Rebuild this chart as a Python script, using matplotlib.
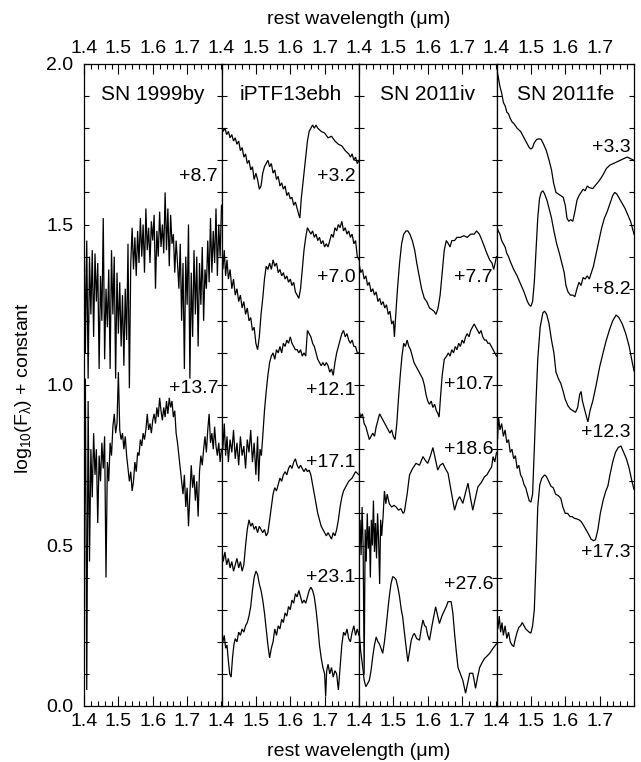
import matplotlib
matplotlib.use('Agg')
import matplotlib.pyplot as plt
from matplotlib.ticker import MultipleLocator, FixedLocator, FormatStrFormatter

plt.rcParams['font.family'] = ['Liberation Sans', 'DejaVu Sans']
plt.rcParams['mathtext.fontset'] = 'custom'
plt.rcParams['mathtext.rm'] = 'Liberation Sans'
plt.rcParams['mathtext.it'] = 'Liberation Sans:italic'

# ---------------- data ----------------
panel_titles = ['SN 1999by', 'iPTF13ebh', 'SN 2011iv', 'SN 2011fe']
x_ticks = [1.4, 1.5, 1.6, 1.7]
y_ticks = [0.0, 0.5, 1.0, 1.5, 2.0]

# SN 1999by (shared wavelength grid)
wl_99by = [1.400, 1.404, 1.408, 1.412, 1.416, 1.420, 1.424, 1.428, 1.432, 1.436,
           1.440, 1.444, 1.448, 1.452, 1.456, 1.460, 1.464, 1.468, 1.472, 1.476,
           1.480, 1.484, 1.488, 1.492, 1.496, 1.500, 1.504, 1.508, 1.512, 1.516,
           1.520, 1.524, 1.528, 1.532, 1.536, 1.540, 1.544, 1.548, 1.552, 1.556,
           1.560, 1.564, 1.568, 1.572, 1.576, 1.580, 1.584, 1.588, 1.592, 1.596,
           1.600, 1.604, 1.608, 1.612, 1.616, 1.620, 1.624, 1.628, 1.632, 1.636,
           1.640, 1.644, 1.648, 1.652, 1.656, 1.660, 1.664, 1.668, 1.672, 1.676,
           1.680, 1.684, 1.688, 1.692, 1.696, 1.700, 1.704, 1.708, 1.712, 1.716,
           1.720, 1.724, 1.728, 1.732, 1.736, 1.740, 1.744, 1.748, 1.752, 1.756,
           1.760, 1.764, 1.768, 1.772, 1.776, 1.780, 1.784, 1.788, 1.792, 1.796,
           1.800]
flux_99by_p87 = [1.55, 1.10, 1.45, 1.02, 1.40, 1.22, 1.42, 1.15, 1.41, 1.26,
                 1.38, 1.05, 1.34, 1.20, 1.52, 1.08, 1.30, 1.18, 1.36, 1.05,
                 1.42, 1.22, 1.40, 1.02, 1.35, 1.16, 1.32, 1.12, 1.28, 1.06,
                 1.30, 1.14, 1.44, 0.99, 1.38, 1.49, 1.36, 1.46, 1.34, 1.48,
                 1.38, 1.52, 1.40, 1.50, 1.35, 1.55, 1.42, 1.49, 1.38, 1.51,
                 1.45, 1.53, 1.30, 1.48, 1.40, 1.54, 1.43, 1.50, 1.41, 1.60,
                 1.42, 1.55, 1.37, 1.53, 1.44, 1.47, 1.35, 1.45, 1.38, 1.30,
                 1.44, 1.20, 1.38, 1.05, 1.40, 1.25, 1.50, 1.02, 1.35, 1.15,
                 1.42, 1.22, 1.40, 1.12, 1.38, 1.25, 1.43, 1.20, 1.36, 1.30,
                 1.45, 1.32, 1.52, 1.35, 1.48, 1.38, 1.55, 1.34, 1.50, 1.40,
                 1.56]
flux_99by_p137 = [0.40, 1.02, 0.05, 0.95, 0.45, 0.80, 0.65, 0.85, 0.72, 0.80,
                  0.57, 0.78, 0.70, 0.82, 0.74, 0.84, 0.40, 0.76, 0.70, 0.82,
                  0.78, 0.87, 0.91, 0.85, 0.88, 1.04, 0.86, 0.83, 0.85, 0.80,
                  0.84, 0.78, 0.74, 0.70, 0.73, 0.67, 0.70, 0.76, 0.73, 0.79,
                  0.78, 0.83, 0.81, 0.85, 0.83, 0.86, 0.91, 0.86, 0.88, 0.85,
                  0.89, 0.91, 0.88, 0.93, 0.90, 0.96, 0.92, 0.89, 0.93, 0.90,
                  0.95, 0.91, 0.96, 0.93, 0.95, 0.90, 0.92, 0.85, 0.82, 0.78,
                  0.74, 0.70, 0.66, 0.72, 0.62, 0.68, 0.56, 0.66, 0.75, 0.68,
                  0.72, 0.64, 0.70, 0.59, 0.73, 0.78, 0.75, 0.80, 0.84, 0.79,
                  0.86, 0.91, 0.82, 0.85, 0.80, 0.87, 0.81, 0.78, 0.82, 0.76,
                  0.80]

# iPTF13ebh
wl_ebh_p32 = [1.400, 1.405, 1.410, 1.415, 1.420, 1.425, 1.430, 1.435, 1.440, 1.445,
              1.450, 1.455, 1.460, 1.465, 1.470, 1.475, 1.480, 1.485, 1.490, 1.495,
              1.500, 1.505, 1.510, 1.515, 1.520, 1.525, 1.530, 1.535, 1.540, 1.545,
              1.550, 1.555, 1.560, 1.565, 1.570, 1.575, 1.580, 1.585, 1.590, 1.595,
              1.600, 1.605, 1.610, 1.615, 1.620, 1.625, 1.628, 1.632, 1.638, 1.644,
              1.650, 1.655, 1.660, 1.665, 1.670, 1.675, 1.680, 1.690, 1.700, 1.710,
              1.720, 1.730, 1.740, 1.750, 1.760, 1.770, 1.775, 1.780, 1.785, 1.790,
              1.795, 1.800]
flux_ebh_p32 = [1.81, 1.79, 1.80, 1.78, 1.79, 1.77, 1.78, 1.76, 1.77, 1.75,
                1.76, 1.73, 1.74, 1.71, 1.72, 1.69, 1.70, 1.67, 1.68, 1.64,
                1.66, 1.64, 1.61, 1.62, 1.66, 1.68, 1.69, 1.70, 1.68, 1.69,
                1.66, 1.67, 1.64, 1.65, 1.62, 1.63, 1.61, 1.62, 1.59, 1.60,
                1.58, 1.585, 1.56, 1.57, 1.55, 1.53, 1.52, 1.58, 1.64, 1.70,
                1.76, 1.79, 1.80, 1.81, 1.80, 1.81, 1.80, 1.79, 1.785, 1.77,
                1.775, 1.76, 1.75, 1.745, 1.73, 1.72, 1.71, 1.72, 1.70, 1.71,
                1.69, 1.70]

wl_ebh_p70 = [1.400, 1.404, 1.408, 1.412, 1.416, 1.420, 1.425, 1.430, 1.435, 1.440,
              1.445, 1.450, 1.455, 1.460, 1.465, 1.470, 1.475, 1.480, 1.485, 1.490,
              1.495, 1.500, 1.505, 1.510, 1.515, 1.520, 1.525, 1.530, 1.535, 1.540,
              1.545, 1.550, 1.555, 1.560, 1.565, 1.570, 1.575, 1.580, 1.585, 1.590,
              1.595, 1.600, 1.605, 1.610, 1.615, 1.620, 1.625, 1.630, 1.635, 1.640,
              1.645, 1.650, 1.655, 1.660, 1.665, 1.670, 1.675, 1.680, 1.685, 1.690,
              1.695, 1.700, 1.705, 1.710, 1.715, 1.720, 1.725, 1.730, 1.735, 1.740,
              1.745, 1.750, 1.755, 1.760, 1.765, 1.770, 1.775, 1.780, 1.785, 1.790,
              1.795, 1.800]
flux_ebh_p70 = [1.44, 1.36, 1.42, 1.34, 1.39, 1.33, 1.36, 1.30, 1.33, 1.28,
                1.30, 1.26, 1.28, 1.24, 1.26, 1.22, 1.24, 1.20, 1.21, 1.17,
                1.18, 1.13, 1.11, 1.15, 1.22, 1.27, 1.33, 1.37, 1.36, 1.38,
                1.36, 1.39, 1.37, 1.38, 1.35, 1.36, 1.34, 1.35, 1.33, 1.34,
                1.32, 1.33, 1.31, 1.32, 1.29, 1.28, 1.27, 1.30, 1.36, 1.42,
                1.46, 1.49, 1.48, 1.47, 1.48, 1.46, 1.47, 1.45, 1.46, 1.44,
                1.45, 1.43, 1.44, 1.43, 1.45, 1.47, 1.46, 1.49, 1.48, 1.50,
                1.49, 1.51, 1.48, 1.49, 1.47, 1.48, 1.46, 1.47, 1.44, 1.45,
                1.40, 1.39]

wl_ebh_p121 = [1.400, 1.404, 1.408, 1.412, 1.416, 1.420, 1.425, 1.430, 1.435, 1.440,
               1.445, 1.450, 1.455, 1.460, 1.465, 1.470, 1.475, 1.480, 1.485, 1.490,
               1.495, 1.500, 1.505, 1.508, 1.512, 1.516, 1.520, 1.525, 1.530, 1.535,
               1.540, 1.545, 1.550, 1.555, 1.560, 1.565, 1.570, 1.575, 1.580, 1.585,
               1.590, 1.595, 1.600, 1.605, 1.610, 1.615, 1.620, 1.625, 1.630, 1.635,
               1.640, 1.645, 1.650, 1.655, 1.660, 1.665, 1.670, 1.675, 1.680, 1.685,
               1.690, 1.695, 1.700, 1.705, 1.710, 1.715, 1.720, 1.725, 1.730, 1.735,
               1.740, 1.745, 1.750, 1.755, 1.760, 1.765, 1.770, 1.775, 1.780, 1.785,
               1.790, 1.795, 1.800]
flux_ebh_p121 = [0.86, 0.80, 0.88, 0.78, 0.84, 0.76, 0.83, 0.79, 0.86, 0.77,
                 0.82, 0.75, 0.84, 0.78, 0.81, 0.74, 0.83, 0.79, 0.86, 0.76,
                 0.82, 0.72, 0.84, 0.70, 0.80, 0.78, 0.84, 0.92, 0.98, 1.03,
                 1.07, 1.09, 1.10, 1.08, 1.11, 1.10, 1.12, 1.10, 1.13, 1.12,
                 1.14, 1.13, 1.15, 1.13, 1.12, 1.11, 1.11, 1.10, 1.11, 1.09,
                 1.10, 1.09, 1.17, 1.16, 1.15, 1.13, 1.12, 1.10, 1.08, 1.07,
                 1.06, 1.07, 1.06, 1.07, 1.06, 1.04, 1.05, 1.03, 1.07, 1.10,
                 1.12, 1.14, 1.16, 1.17, 1.15, 1.16, 1.14, 1.13, 1.14, 1.12,
                 1.12, 1.10, 1.10]

wl_ebh_p171 = [1.400, 1.405, 1.410, 1.415, 1.420, 1.425, 1.430, 1.435, 1.440, 1.445,
               1.450, 1.455, 1.460, 1.465, 1.470, 1.475, 1.480, 1.485, 1.490, 1.495,
               1.500, 1.505, 1.510, 1.515, 1.520, 1.525, 1.530, 1.535, 1.540, 1.545,
               1.550, 1.555, 1.560, 1.565, 1.570, 1.575, 1.580, 1.585, 1.590, 1.595,
               1.600, 1.605, 1.610, 1.615, 1.620, 1.625, 1.630, 1.635, 1.640, 1.645,
               1.650, 1.655, 1.660, 1.665, 1.670, 1.675, 1.680, 1.685, 1.690, 1.695,
               1.700, 1.705, 1.710, 1.715, 1.720, 1.725, 1.730, 1.735, 1.740, 1.745,
               1.750, 1.755, 1.760, 1.765, 1.770, 1.780, 1.790, 1.800]
flux_ebh_p171 = [0.50, 0.45, 0.48, 0.44, 0.46, 0.43, 0.45, 0.42, 0.44, 0.46,
                 0.43, 0.45, 0.42, 0.44, 0.50, 0.55, 0.58, 0.56, 0.57, 0.55,
                 0.56, 0.54, 0.56, 0.55, 0.54, 0.55, 0.53, 0.54, 0.58, 0.62,
                 0.66, 0.68, 0.67, 0.69, 0.71, 0.70, 0.72, 0.73, 0.72, 0.74,
                 0.75, 0.74, 0.76, 0.77, 0.75, 0.74, 0.75, 0.74, 0.73, 0.74,
                 0.73, 0.735, 0.72, 0.69, 0.66, 0.63, 0.60, 0.58, 0.56, 0.55,
                 0.54, 0.53, 0.54, 0.53, 0.52, 0.54, 0.53, 0.55, 0.58, 0.62,
                 0.65, 0.67, 0.68, 0.69, 0.70, 0.71, 0.73, 0.72]

wl_ebh_p231 = [1.400, 1.404, 1.408, 1.412, 1.416, 1.420, 1.424, 1.428, 1.432, 1.436,
               1.440, 1.445, 1.450, 1.455, 1.460, 1.465, 1.470, 1.475, 1.480, 1.485,
               1.490, 1.495, 1.500, 1.505, 1.510, 1.515, 1.520, 1.525, 1.530, 1.535,
               1.540, 1.545, 1.550, 1.555, 1.560, 1.565, 1.570, 1.575, 1.580, 1.585,
               1.590, 1.595, 1.600, 1.605, 1.610, 1.615, 1.620, 1.625, 1.630, 1.635,
               1.640, 1.645, 1.650, 1.655, 1.660, 1.665, 1.670, 1.675, 1.680, 1.685,
               1.690, 1.695, 1.700, 1.703, 1.706, 1.710, 1.715, 1.720, 1.725, 1.730,
               1.735, 1.740, 1.745, 1.750, 1.755, 1.760, 1.765, 1.770, 1.775, 1.780,
               1.785, 1.790, 1.795, 1.800]
flux_ebh_p231 = [0.23, 0.20, 0.22, 0.18, 0.19, 0.14, 0.10, 0.09, 0.15, 0.19,
                 0.21, 0.20, 0.23, 0.22, 0.24, 0.23, 0.25, 0.26, 0.28, 0.31,
                 0.36, 0.40, 0.42, 0.41, 0.38, 0.36, 0.33, 0.29, 0.24, 0.19,
                 0.15, 0.18, 0.20, 0.24, 0.22, 0.25, 0.24, 0.27, 0.26, 0.29,
                 0.28, 0.31, 0.30, 0.33, 0.32, 0.35, 0.34, 0.36, 0.34, 0.32,
                 0.33, 0.32, 0.34, 0.36, 0.37, 0.36, 0.34, 0.30, 0.25, 0.19,
                 0.15, 0.12, 0.10, 0.03, 0.11, 0.13, 0.10, 0.12, 0.09, 0.11,
                 0.10, 0.05, 0.12, 0.19, 0.23, 0.22, 0.24, 0.21, 0.20, 0.23,
                 0.25, 0.22, 0.24, 0.22]

# SN 2011iv
wl_11iv_p77 = [1.400, 1.405, 1.410, 1.415, 1.420, 1.425, 1.430, 1.435, 1.440, 1.445,
               1.450, 1.455, 1.460, 1.465, 1.470, 1.475, 1.480, 1.485, 1.490, 1.495,
               1.500, 1.503, 1.507, 1.512, 1.518, 1.524, 1.530, 1.537, 1.542, 1.548,
               1.555, 1.562, 1.568, 1.575, 1.582, 1.590, 1.597, 1.605, 1.612, 1.618,
               1.624, 1.630, 1.636, 1.642, 1.648, 1.654, 1.660, 1.665, 1.670, 1.678,
               1.685, 1.695, 1.705, 1.715, 1.725, 1.735, 1.742, 1.750, 1.758, 1.765,
               1.772, 1.780, 1.787, 1.792, 1.796, 1.800]
flux_11iv_p77 = [1.38, 1.35, 1.36, 1.33, 1.34, 1.31, 1.32, 1.29, 1.30, 1.28,
                 1.29, 1.26, 1.27, 1.25, 1.26, 1.24, 1.25, 1.22, 1.23, 1.19,
                 1.20, 1.15, 1.22, 1.30, 1.38, 1.44, 1.47, 1.48, 1.48, 1.47,
                 1.45, 1.42, 1.38, 1.34, 1.30, 1.27, 1.26, 1.24, 1.235, 1.23,
                 1.22, 1.24, 1.28, 1.35, 1.42, 1.45, 1.44, 1.43, 1.45, 1.45,
                 1.46, 1.46, 1.465, 1.46, 1.47, 1.47, 1.48, 1.47, 1.45, 1.43,
                 1.41, 1.39, 1.38, 1.36, 1.38, 1.40]

wl_11iv_p107 = [1.400, 1.405, 1.410, 1.415, 1.420, 1.425, 1.430, 1.435, 1.440, 1.445,
                1.450, 1.455, 1.460, 1.465, 1.470, 1.475, 1.480, 1.485, 1.490, 1.495,
                1.500, 1.505, 1.510, 1.515, 1.520, 1.525, 1.530, 1.535, 1.540, 1.545,
                1.550, 1.555, 1.560, 1.565, 1.570, 1.575, 1.580, 1.585, 1.590, 1.595,
                1.600, 1.605, 1.610, 1.615, 1.620, 1.625, 1.630, 1.633, 1.637, 1.642,
                1.648, 1.655, 1.660, 1.665, 1.670, 1.675, 1.680, 1.685, 1.690, 1.695,
                1.700, 1.705, 1.710, 1.715, 1.720, 1.725, 1.730, 1.735, 1.740, 1.745,
                1.750, 1.755, 1.760, 1.765, 1.770, 1.775, 1.780, 1.785, 1.790, 1.795,
                1.800]
flux_11iv_p107 = [0.92, 0.90, 0.91, 0.88, 0.87, 0.85, 0.83, 0.84, 0.85, 0.84,
                  0.87, 0.89, 0.91, 0.90, 0.89, 0.88, 0.87, 0.86, 0.85, 0.86,
                  0.84, 0.83, 0.88, 0.96, 1.03, 1.09, 1.13, 1.12, 1.14, 1.12,
                  1.11, 1.09, 1.07, 1.06, 1.05, 1.04, 1.03, 1.02, 1.00, 0.97,
                  0.95, 0.94, 0.95, 0.93, 0.94, 0.92, 0.91, 0.90, 0.96, 1.03,
                  1.08, 1.09, 1.10, 1.09, 1.11, 1.10, 1.12, 1.11, 1.13, 1.12,
                  1.14, 1.13, 1.15, 1.16, 1.15, 1.17, 1.18, 1.19, 1.18, 1.17,
                  1.16, 1.17, 1.15, 1.14, 1.14, 1.13, 1.13, 1.12, 1.11, 1.10,
                  1.09]

wl_11iv_p186 = [1.400, 1.403, 1.406, 1.409, 1.412, 1.415, 1.418, 1.421, 1.424, 1.427,
                1.430, 1.433, 1.436, 1.439, 1.442, 1.445, 1.448, 1.451, 1.454, 1.457,
                1.460, 1.463, 1.466, 1.470, 1.474, 1.478, 1.482, 1.488, 1.495, 1.502,
                1.508, 1.515, 1.522, 1.528, 1.532, 1.540, 1.547, 1.556, 1.566, 1.576,
                1.586, 1.593, 1.600, 1.608, 1.615, 1.622, 1.629, 1.636, 1.644, 1.651,
                1.659, 1.668, 1.678, 1.686, 1.693, 1.702, 1.710, 1.717, 1.724, 1.731,
                1.739, 1.746, 1.755, 1.765, 1.772, 1.780, 1.786, 1.790, 1.795, 1.800]
flux_11iv_p186 = [0.52, 0.58, 0.47, 0.62, 0.50, 0.10, 0.55, 0.45, 0.60, 0.49,
                  0.56, 0.40, 0.58, 0.50, 0.64, 0.48, 0.57, 0.46, 0.60, 0.52,
                  0.38, 0.58, 0.53, 0.59, 0.67, 0.63, 0.66, 0.63, 0.62, 0.625,
                  0.62, 0.61, 0.615, 0.60, 0.605, 0.66, 0.72, 0.74, 0.756, 0.75,
                  0.777, 0.765, 0.756, 0.78, 0.805, 0.77, 0.735, 0.75, 0.756, 0.74,
                  0.725, 0.67, 0.61, 0.64, 0.652, 0.631, 0.665, 0.694, 0.65, 0.61,
                  0.65, 0.683, 0.695, 0.714, 0.72, 0.735, 0.745, 0.777, 0.76, 0.79]

wl_11iv_p276 = [1.400, 1.405, 1.411, 1.415, 1.420, 1.425, 1.430, 1.435, 1.440, 1.445,
                1.450, 1.455, 1.459, 1.464, 1.469, 1.474, 1.479, 1.484, 1.488, 1.493,
                1.498, 1.503, 1.508, 1.513, 1.518, 1.523, 1.527, 1.532, 1.537, 1.542,
                1.547, 1.552, 1.557, 1.561, 1.568, 1.576, 1.581, 1.586, 1.591, 1.595,
                1.600, 1.605, 1.614, 1.623, 1.629, 1.634, 1.641, 1.649, 1.654, 1.659,
                1.668, 1.673, 1.678, 1.683, 1.688, 1.695, 1.702, 1.706, 1.710, 1.716,
                1.722, 1.731, 1.735, 1.739, 1.745, 1.751, 1.758, 1.765, 1.772, 1.780,
                1.790, 1.800]
flux_11iv_p276 = [0.236, 0.17, 0.12, 0.08, 0.06, 0.07, 0.08, 0.11, 0.154, 0.19,
                  0.215, 0.20, 0.194, 0.18, 0.164, 0.20, 0.247, 0.30, 0.34, 0.38,
                  0.403, 0.40, 0.393, 0.37, 0.34, 0.30, 0.278, 0.23, 0.184, 0.138,
                  0.17, 0.205, 0.22, 0.226, 0.21, 0.205, 0.24, 0.268, 0.25, 0.247,
                  0.22, 0.205, 0.26, 0.309, 0.28, 0.257, 0.28, 0.299, 0.31, 0.325,
                  0.325, 0.29, 0.226, 0.17, 0.12, 0.10, 0.08, 0.06, 0.04, 0.07,
                  0.102, 0.102, 0.08, 0.055, 0.09, 0.12, 0.135, 0.148, 0.155, 0.164,
                  0.18, 0.194]

# SN 2011fe
wl_11fe_p33 = [1.400, 1.405, 1.410, 1.415, 1.420, 1.425, 1.430, 1.435, 1.440, 1.445,
               1.450, 1.460, 1.470, 1.480, 1.490, 1.495, 1.500, 1.505, 1.510, 1.517,
               1.524, 1.530, 1.537, 1.545, 1.553, 1.560, 1.566, 1.573, 1.580, 1.587,
               1.594, 1.600, 1.605, 1.610, 1.616, 1.622, 1.628, 1.634, 1.640, 1.646,
               1.652, 1.658, 1.664, 1.670, 1.680, 1.690, 1.700, 1.710, 1.720, 1.730,
               1.740, 1.750, 1.760, 1.770, 1.780, 1.790, 1.800]
flux_11fe_p33 = [1.99, 1.96, 1.93, 1.91, 1.88, 1.87, 1.85, 1.845, 1.83, 1.82,
                 1.815, 1.80, 1.79, 1.77, 1.75, 1.74, 1.735, 1.74, 1.755, 1.765,
                 1.767, 1.765, 1.75, 1.73, 1.70, 1.67, 1.63, 1.60, 1.595, 1.59,
                 1.585, 1.56, 1.52, 1.51, 1.515, 1.51, 1.54, 1.575, 1.59, 1.60,
                 1.61, 1.605, 1.62, 1.615, 1.612, 1.625, 1.638, 1.655, 1.675, 1.685,
                 1.69, 1.695, 1.70, 1.705, 1.71, 1.705, 1.70]

wl_11fe_p82 = [1.400, 1.405, 1.410, 1.415, 1.420, 1.425, 1.430, 1.435, 1.440, 1.450,
               1.460, 1.470, 1.480, 1.490, 1.495, 1.500, 1.505, 1.510, 1.515, 1.520,
               1.525, 1.530, 1.535, 1.540, 1.547, 1.553, 1.560, 1.567, 1.575, 1.583,
               1.590, 1.597, 1.602, 1.608, 1.615, 1.622, 1.628, 1.634, 1.640, 1.646,
               1.652, 1.658, 1.664, 1.670, 1.676, 1.682, 1.690, 1.698, 1.706, 1.714,
               1.722, 1.730, 1.738, 1.744, 1.750, 1.758, 1.766, 1.774, 1.782, 1.790,
               1.800]
flux_11fe_p82 = [1.50, 1.48, 1.47, 1.45, 1.44, 1.43, 1.41, 1.40, 1.385, 1.36,
                 1.34, 1.315, 1.29, 1.26, 1.25, 1.245, 1.26, 1.32, 1.42, 1.52,
                 1.58, 1.60, 1.605, 1.595, 1.575, 1.55, 1.52, 1.48, 1.44, 1.41,
                 1.38, 1.35, 1.31, 1.29, 1.28, 1.28, 1.275, 1.30, 1.32, 1.31,
                 1.335, 1.33, 1.34, 1.33, 1.35, 1.37, 1.41, 1.45, 1.49, 1.52,
                 1.54, 1.565, 1.59, 1.60, 1.595, 1.58, 1.565, 1.55, 1.53, 1.51,
                 1.47]

wl_11fe_p123 = [1.400, 1.403, 1.406, 1.410, 1.415, 1.420, 1.425, 1.430, 1.435, 1.440,
                1.445, 1.450, 1.455, 1.460, 1.465, 1.470, 1.475, 1.480, 1.485, 1.490,
                1.495, 1.500, 1.505, 1.510, 1.515, 1.520, 1.527, 1.535, 1.540, 1.546,
                1.553, 1.560, 1.567, 1.573, 1.580, 1.587, 1.594, 1.600, 1.608, 1.615,
                1.622, 1.630, 1.636, 1.642, 1.646, 1.650, 1.656, 1.662, 1.666, 1.672,
                1.680, 1.690, 1.700, 1.710, 1.718, 1.728, 1.738, 1.748, 1.756, 1.766,
                1.776, 1.786, 1.795, 1.800]
flux_11fe_p123 = [0.92, 0.83, 0.90, 0.86, 0.88, 0.84, 0.86, 0.82, 0.83, 0.79,
                  0.80, 0.77, 0.78, 0.74, 0.75, 0.72, 0.71, 0.69, 0.68, 0.66,
                  0.64, 0.635, 0.66, 0.80, 0.95, 1.08, 1.18, 1.225, 1.23, 1.22,
                  1.19, 1.14, 1.10, 1.04, 1.02, 1.005, 0.98, 0.955, 0.935, 0.925,
                  0.92, 0.915, 0.93, 0.97, 0.98, 0.95, 0.925, 0.90, 0.885, 0.92,
                  0.95, 1.00, 1.056, 1.10, 1.134, 1.17, 1.20, 1.218, 1.21, 1.19,
                  1.16, 1.12, 1.07, 1.044]

wl_11fe_p173 = [1.400, 1.404, 1.408, 1.412, 1.416, 1.420, 1.425, 1.430, 1.435, 1.440,
                1.445, 1.450, 1.455, 1.460, 1.465, 1.470, 1.475, 1.480, 1.485, 1.490,
                1.495, 1.500, 1.505, 1.510, 1.515, 1.520, 1.526, 1.532, 1.540, 1.545,
                1.552, 1.558, 1.565, 1.572, 1.580, 1.587, 1.593, 1.600, 1.607, 1.614,
                1.620, 1.626, 1.633, 1.640, 1.646, 1.652, 1.660, 1.668, 1.675, 1.682,
                1.688, 1.695, 1.702, 1.710, 1.718, 1.724, 1.730, 1.738, 1.746, 1.754,
                1.762, 1.770, 1.778, 1.786, 1.794, 1.800]
flux_11fe_p173 = [0.27, 0.24, 0.28, 0.23, 0.26, 0.22, 0.25, 0.21, 0.23, 0.20,
                  0.19, 0.185, 0.21, 0.23, 0.245, 0.25, 0.26, 0.25, 0.24, 0.235,
                  0.23, 0.227, 0.25, 0.30, 0.45, 0.62, 0.69, 0.71, 0.72, 0.715,
                  0.70, 0.685, 0.68, 0.66, 0.655, 0.647, 0.62, 0.60, 0.60, 0.59,
                  0.59, 0.585, 0.583, 0.58, 0.575, 0.565, 0.55, 0.535, 0.52, 0.515,
                  0.518, 0.55, 0.60, 0.64, 0.67, 0.685, 0.72, 0.76, 0.79, 0.805,
                  0.81, 0.79, 0.77, 0.74, 0.70, 0.675]

# epoch labels (days) and their vertical anchor levels
labels_99by = ['+8.7', '+13.7']
labels_ebh = ['+3.2', '+7.0', '+12.1', '+17.1', '+23.1']
labels_11iv = ['+7.7', '+10.7', '+18.6', '+27.6']
labels_11fe = ['+3.3', '+8.2', '+12.3', '+17.3']
label_y_99by = [1.648, 0.99]
label_y_ebh = [1.648, 1.336, 0.984, 0.76, 0.40]
label_y_11iv = [1.336, 1.0, 0.80, 0.377]
label_y_11fe = [1.74, 1.296, 0.853, 0.477]

panels = [
    ([(wl_99by, flux_99by_p87), (wl_99by, flux_99by_p137)], labels_99by, label_y_99by),
    ([(wl_ebh_p32, flux_ebh_p32), (wl_ebh_p70, flux_ebh_p70), (wl_ebh_p121, flux_ebh_p121),
      (wl_ebh_p171, flux_ebh_p171), (wl_ebh_p231, flux_ebh_p231)], labels_ebh, label_y_ebh),
    ([(wl_11iv_p77, flux_11iv_p77), (wl_11iv_p107, flux_11iv_p107),
      (wl_11iv_p186, flux_11iv_p186), (wl_11iv_p276, flux_11iv_p276)], labels_11iv, label_y_11iv),
    ([(wl_11fe_p33, flux_11fe_p33), (wl_11fe_p82, flux_11fe_p82),
      (wl_11fe_p123, flux_11fe_p123), (wl_11fe_p173, flux_11fe_p173)], labels_11fe, label_y_11fe),
]

# ---------------- figure ----------------
W, H = 641, 762
fig = plt.figure(figsize=(W / 100, H / 100), dpi=100)
gs = fig.add_gridspec(1, 4, left=84 / W, right=634 / W, bottom=1 - 706 / H, top=1 - 64 / H,
                      wspace=0)
FS = 14
for i, (spectra, labs, labys) in enumerate(panels):
    ax = fig.add_subplot(gs[0, i])
    for wl, fl in spectra:
        ax.plot(wl, fl, color='black', lw=0.9, solid_joinstyle='miter')
    for lab, ly in zip(labs, labys):
        ax.text(1.790, ly, lab, ha='right', va='center', fontsize=FS)
    ax.text(1.6, 1.905, panel_titles[i], ha='center', va='center', fontsize=15)
    ax.set_xlim(1.4, 1.8)
    ax.set_ylim(0.0, 2.0)
    ax.xaxis.set_major_locator(FixedLocator(x_ticks))
    ax.xaxis.set_minor_locator(MultipleLocator(0.02))
    ax.xaxis.set_major_formatter(FormatStrFormatter('%.1f'))
    ax.yaxis.set_major_locator(FixedLocator(y_ticks))
    ax.yaxis.set_minor_locator(MultipleLocator(0.1))
    ax.yaxis.set_major_formatter(FormatStrFormatter('%.1f'))
    ax.tick_params(axis='both', which='both', direction='in', top=True, right=True,
                   labeltop=True, labelbottom=True, labelsize=FS, width=0.8, color='black')
    ax.tick_params(axis='x', which='major', length=7.2, pad=5)
    ax.tick_params(axis='x', which='minor', length=3.6)
    ax.tick_params(axis='y', which='both', length=3.6, pad=7.5)
    if i > 0:
        ax.tick_params(axis='y', labelleft=False)
    for sp in ax.spines.values():
        sp.set_linewidth(0.9)

fig.text(359 / W, 1 - 20 / H, 'rest wavelength (μm)', ha='center', va='center', fontsize=FS)
fig.text(359 / W, 1 - 751 / H, 'rest wavelength (μm)', ha='center', va='center', fontsize=FS)
fig.text(24 / W, 1 - 388 / H, 'log$_{\\mathregular{10}}$(F$_{\\mathregular{λ}}$) + constant',
         ha='center', va='center', rotation=90, fontsize=FS)

fig.savefig('out.png', dpi=100)
